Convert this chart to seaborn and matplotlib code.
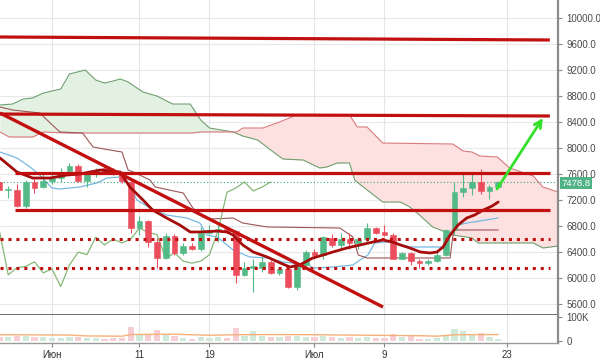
import numpy as np
import pandas as pd
import matplotlib
matplotlib.use("Agg")
import matplotlib.pyplot as plt
import matplotlib.transforms as mtransforms
import seaborn as sns

# ---------------- data (day 0 = 1 June 2018) ----------------
days = list(range(-6, 52))
opens = [7480, 7350, 7360, 7110, 7480, 7400, 7500, 7540, 7640, 7730, 7490, 7620, 7690, 7660, 7600,
         7480, 6770, 6880, 6550, 6310, 6650, 6390, 6490, 6450, 6700, 6740, 6760, 6720, 6050, 6160,
         6150, 6250, 6080, 6140, 5870, 6200, 6400, 6360, 6620, 6510, 6600, 6540, 6600, 6770, 6710,
         6670, 6300, 6390, 6260, 6230, 6260, 6360, 6740, 7320, 7385, 7478, 7340, 7400]
highs = [7600, 7420, 7440, 7510, 7540, 7600, 7600, 7690, 7770, 7760, 7640, 7700, 7730, 7700, 7640,
         7500, 6960, 6900, 6620, 6700, 6680, 6540, 6540, 6780, 6810, 6820, 6790, 6740, 6250, 6290,
         6320, 6280, 6170, 6170, 6250, 6430, 6440, 6650, 6680, 6700, 6690, 6630, 6850, 6790, 6820,
         6690, 6400, 6400, 6300, 6290, 6400, 6760, 7480, 7600, 7600, 7680, 7430, 7500]
lows = [7330, 7230, 7090, 7080, 7310, 7380, 7440, 7480, 7620, 7470, 7400, 7550, 7630, 7590, 7460,
        6700, 6660, 6480, 6150, 6290, 6360, 6360, 6430, 6420, 6680, 6560, 6690, 5930, 6030, 5780,
        6100, 6060, 6040, 5840, 5820, 6180, 6300, 6300, 6480, 6450, 6450, 6450, 6560, 6680, 6650,
        6290, 6290, 6200, 6150, 6200, 6240, 6340, 6680, 7250, 7280, 7300, 7220, 7380]
closes = [7350, 7370, 7110, 7480, 7390, 7495, 7540, 7620, 7730, 7490, 7620, 7660, 7650, 7620, 7495,
          6770, 6880, 6555, 6310, 6650, 6390, 6490, 6450, 6700, 6740, 6760, 6720, 6050, 6160, 6180,
          6250, 6080, 6140, 5870, 6200, 6400, 6360, 6630, 6510, 6600, 6540, 6600, 6770, 6700, 6670,
          6300, 6390, 6260, 6230, 6260, 6360, 6740, 7320, 7385, 7478, 7340, 7400, 7478.8]
volumes_k = [18, 15, 20, 22, 18, 16, 14, 12, 15, 18, 14, 12, 10, 12, 14,
             60, 25, 28, 45, 30, 22, 12, 10, 18, 14, 15, 12, 55, 20, 40,
             22, 18, 15, 20, 22, 18, 15, 22, 18, 14, 15, 12, 18, 12, 14,
             28, 15, 20, 10, 8, 14, 25, 48, 40, 30, 33, 15, 10]

vol_ma_days = [-6, 2, 4, 8, 9, 14, 18, 21, 26, 30, 36, 42, 44, 46, 51]
vol_ma_k = [26, 25, 21, 20, 27, 28, 24, 26, 27, 26, 24, 22, 20, 26, 27]

# Ichimoku components
span_a_days = [-5.94, -4.5, -3.3, -2.2, -1, 1, 2, 3.8, 5, 6, 7, 7.8, 8.7, 10.4, 12, 13.8, 15.8, 17,
               18, 20.7, 21.8, 23.5, 25.3, 26.4, 28.7, 30.6, 31.4, 32.6, 34, 34.6, 35, 37.8, 39.8,
               40.9, 42, 43.5, 44.7, 45.8, 47.4, 48, 48.7, 55, 56.1, 57.83]
span_a = [8662, 8677, 8754, 8770, 8846, 8908, 9139, 9200, 9046, 9000, 9031, 9062, 9016, 8862, 8800,
          8677, 8677, 8431, 8308, 8247, 8185, 8124, 7939, 7831, 7816, 7693, 7708, 7770, 7770, 7508,
          7462, 7170, 7170, 7093, 6970, 6786, 6724, 6662, 6631, 6616, 6540, 6540, 6463, 6493]
span_b_days = [-5.94, -4.9, -2.2, -1, 1.7, 16, 17, 21.1, 21.8, 24.1, 26, 27.4, 27.8, 34, 34.9, 36,
               37.8, 45.8, 47, 48, 48.9, 50.9, 52.3, 55, 56.1, 57.83]
span_b = [8247, 8170, 8170, 8247, 8231, 8231, 8247, 8247, 8308, 8308, 8400, 8477, 8508, 8508, 8324,
          8324, 8077, 8062, 7954, 7939, 7878, 7862, 7693, 7570, 7401, 7324]
tenkan_days = [-5.94, -4, -2.5, -1.4, 0, 0.9, 3.2, 5.1, 6.3, 7.8, 8.9, 9.7, 11.2, 13.1, 15.4, 16.9,
               17.7, 18.9, 20.7, 22.6, 24.6, 26.4, 27.5, 28.3, 29.1, 29.8, 32.1, 34.4, 35.2, 36.1,
               36.9, 38.3, 39.4, 40.9, 44.7, 45.5, 46.4, 47.4, 48.9, 51]
tenkan = [7939, 7847, 7708, 7585, 7385, 7370, 7401, 7462, 7539, 7555, 7432, 7201, 7078, 6970, 6924,
          6847, 6662, 6632, 6432, 6324, 6309, 6247, 6232, 6170, 6232, 6155, 6170, 6201, 6278, 6355,
          6540, 6555, 6540, 6478, 6478, 6693, 6816, 6847, 6878, 6924]
kijun_days = [-5.94, -4.5, -1.4, -0.2, 0.9, 3.5, 4.7, 6.6, 8, 8.7, 9.3, 11.2, 11.8, 15, 16.1, 17.3,
              18.1, 20.7, 21.8, 24.6, 32.9, 34.4, 35, 36, 45.5, 45.9, 51]
kijun = [8631, 8585, 8539, 8385, 8247, 8231, 8016, 7970, 7939, 7662, 7631, 7508, 7401, 7308, 7078,
         6939, 6908, 6924, 6847, 6786, 6770, 6632, 6355, 6309, 6309, 6740, 6740]
ma_days = [-5.94, -4, -2.2, -0.2, 1.7, 3.2, 5.5, 7.8, 8.9, 10.4, 11.5, 13.1, 14.6, 15.8, 16.9, 18.9,
           20, 20.7, 21.8, 23, 24.6, 26.1, 27.2, 28.3, 29.8, 31, 32.1, 33.7, 35.2, 36.7, 37.8, 38.9,
           39.8, 40.9, 42.1, 43.2, 44, 44.7, 45.5, 46.4, 47.4, 48.3, 49.3, 50.3, 51]
ma = [7847, 7631, 7539, 7539, 7585, 7601, 7662, 7631, 7401, 7201, 7047, 6924, 6816, 6709, 6709, 6723,
      6709, 6662, 6509, 6401, 6324, 6232, 6170, 6201, 6309, 6355, 6401, 6463, 6509, 6555, 6586, 6555,
      6509, 6463, 6401, 6386, 6401, 6478, 6662, 6816, 6924, 6970, 7047, 7108, 7170]

# drawn annotations (price levels, trend line, arrow)
solid_levels = [(-5.94, 56.9, 9708, 9662), (-5.94, 56.9, 8523, 8493),
                (-4.23, 56.9, 7616, 7616), (-4.23, 56.9, 7047, 7047)]
dotted_levels = [6600, 6150]
trend_days = [-5.94, 37.83]
trend_prices = [8539, 5555]
arrow_from = (50.86, 7370)
arrow_to = (56.1, 8462)

tick_days = [0, 10, 18, 30, 38, 52]
tick_labels = ["Июн", "11", "19", "Июл", "9", "23"]
price_ticks = list(range(5600, 10001, 400))
last_price = closes[-1]

# ---------------- style ----------------
sns.set_theme(style="white")
plt.rcParams["font.family"] = ["Liberation Sans", "DejaVu Sans"]

UP = "#53b987"
DOWN = "#eb4d5c"
LEVEL = "#c20f0f"

fig = plt.figure(figsize=(6, 3.6), dpi=100)
ax = fig.add_axes([0.0, 0.125, 0.93, 0.875])
axv = fig.add_axes([0.0, 0.0472, 0.93, 0.0778], sharex=ax)

XMIN, XMAX = -5.94, 57.83
ax.set_xlim(XMIN, XMAX)
ax.set_ylim(5432, 10277)

# grid
for p in price_ticks:
    ax.axhline(p, color="#e9e9e9", lw=0.8, zorder=0)
for d in tick_days:
    ax.axvline(d, color="#e6e6e6", lw=0.8, zorder=0)
    axv.axvline(d, color="#e6e6e6", lw=0.8, zorder=0)

# cloud
xs = np.linspace(XMIN, XMAX, 1500)
A = np.interp(xs, span_a_days, span_a)
B = np.interp(xs, span_b_days, span_b)
ax.fill_between(xs, A, B, where=A >= B, interpolate=True, color="#e3f1e3", lw=0, zorder=1)
ax.fill_between(xs, A, B, where=A < B, interpolate=True, color="#fde0e0", lw=0, zorder=1)

df_a = pd.DataFrame({"d": span_a_days, "p": span_a})
df_b = pd.DataFrame({"d": span_b_days, "p": span_b})
sns.lineplot(data=df_a, x="d", y="p", ax=ax, color="#6f9f6f", lw=0.8, zorder=2, estimator=None)
sns.lineplot(data=df_b, x="d", y="p", ax=ax, color="#d9797b", lw=0.8, zorder=2, estimator=None)

# tenkan, kijun, chikou
sns.lineplot(x=tenkan_days, y=tenkan, ax=ax, color="#77b9e3", lw=0.9, zorder=3, estimator=None)
sns.lineplot(x=kijun_days, y=kijun, ax=ax, color="#9c5656", lw=0.8, zorder=3, estimator=None)
chikou_days = [d - 26 for d in days]
sns.lineplot(x=chikou_days, y=closes, ax=ax, color="#86b777", lw=0.9, zorder=3, estimator=None)

# candles
for d, o, h, l, c in zip(days, opens, highs, lows, closes):
    col = UP if c >= o else DOWN
    ax.vlines(d, l, h, color=col, lw=0.8, zorder=4)
    bottom = min(o, c)
    height = max(abs(c - o), 15)
    ax.bar(d, height, bottom=bottom, width=0.68, color=col, edgecolor=col, lw=0.4, zorder=4)

# moving average
sns.lineplot(x=ma_days, y=ma, ax=ax, color="#a50d0d", lw=2.0, zorder=5, estimator=None)

# levels
for x0, x1, p0, p1 in solid_levels:
    ax.plot([x0, x1], [p0, p1], color=LEVEL, lw=2.3, solid_capstyle="butt", zorder=6)
for p in dotted_levels:
    ax.plot([XMIN, 56.9], [p, p], color=LEVEL, lw=2.2, ls=(0, (1, 1.6)), zorder=6)
ax.plot(trend_days, trend_prices, color=LEVEL, lw=2.4, solid_capstyle="butt", zorder=6)

# last price line
ax.axhline(last_price, color="#3aa57c", lw=0.8, ls=(0, (1, 2)), zorder=3)

# green arrow
ax.annotate("", xy=arrow_to, xytext=arrow_from,
            arrowprops=dict(arrowstyle="->", color="#33e02a", lw=2.0, mutation_scale=13,
                            shrinkA=0, shrinkB=0), zorder=7)

# axes styling (main)
ax.yaxis.tick_right()
ax.set_yticks(price_ticks)
ax.set_yticklabels([f"{p:.1f}" for p in price_ticks])
ax.tick_params(axis="y", which="both", right=True, length=3, width=0.8, color="#888888",
               labelsize=7, labelcolor="#4a4a4a", pad=3)
ax.tick_params(axis="x", bottom=False, labelbottom=False)
ax.set_xlabel("")
ax.set_ylabel("")
for s in ("top", "left"):
    ax.spines[s].set_visible(False)
ax.spines["right"].set_color("#8c8c8c")
ax.spines["right"].set_linewidth(1.6)
ax.spines["bottom"].set_color("#555555")
ax.spines["bottom"].set_linewidth(1.2)

# price label box
trans = mtransforms.blended_transform_factory(ax.transAxes, ax.transData)
ax.text(1.006, last_price - 20, f"{last_price:.1f}", transform=trans, ha="left", va="center",
        fontsize=6.8, color="white", clip_on=False, zorder=10,
        bbox=dict(boxstyle="square,pad=0.14", fc="#4fb386", ec="none"))

# volume panel
vol = [v * 1000 for v in volumes_k]
vcols = ["#cfe9da" if c >= o else "#f6cfd4" for o, c in zip(opens, closes)]
axv.bar(days, vol, width=0.7, color=vcols, lw=0, zorder=2)
sns.lineplot(x=vol_ma_days, y=[v * 1000 for v in vol_ma_k], ax=axv, color="#f7b07a", lw=1.0,
             zorder=3, estimator=None)
axv.set_ylim(-8300, 108000)
axv.set_xlim(XMIN, XMAX)
axv.yaxis.tick_right()
axv.set_yticks([0, 100000])
axv.set_yticklabels(["0", "100K"])
axv.tick_params(axis="y", right=True, length=3, width=0.8, color="#888888",
                labelsize=7, labelcolor="#4a4a4a", pad=3)
axv.set_xticks(tick_days)
axv.set_xticklabels(tick_labels)
axv.tick_params(axis="x", bottom=True, length=3, width=0.8, color="#888888",
                labelsize=7, labelcolor="#333333", pad=2)
axv.set_xlabel("")
axv.set_ylabel("")
for s in ("top", "left"):
    axv.spines[s].set_visible(False)
axv.spines["right"].set_color("#8c8c8c")
axv.spines["right"].set_linewidth(1.6)
axv.spines["bottom"].set_color("#9a9a9a")
axv.spines["bottom"].set_linewidth(1.0)

fig.savefig("out.png", dpi=100)
